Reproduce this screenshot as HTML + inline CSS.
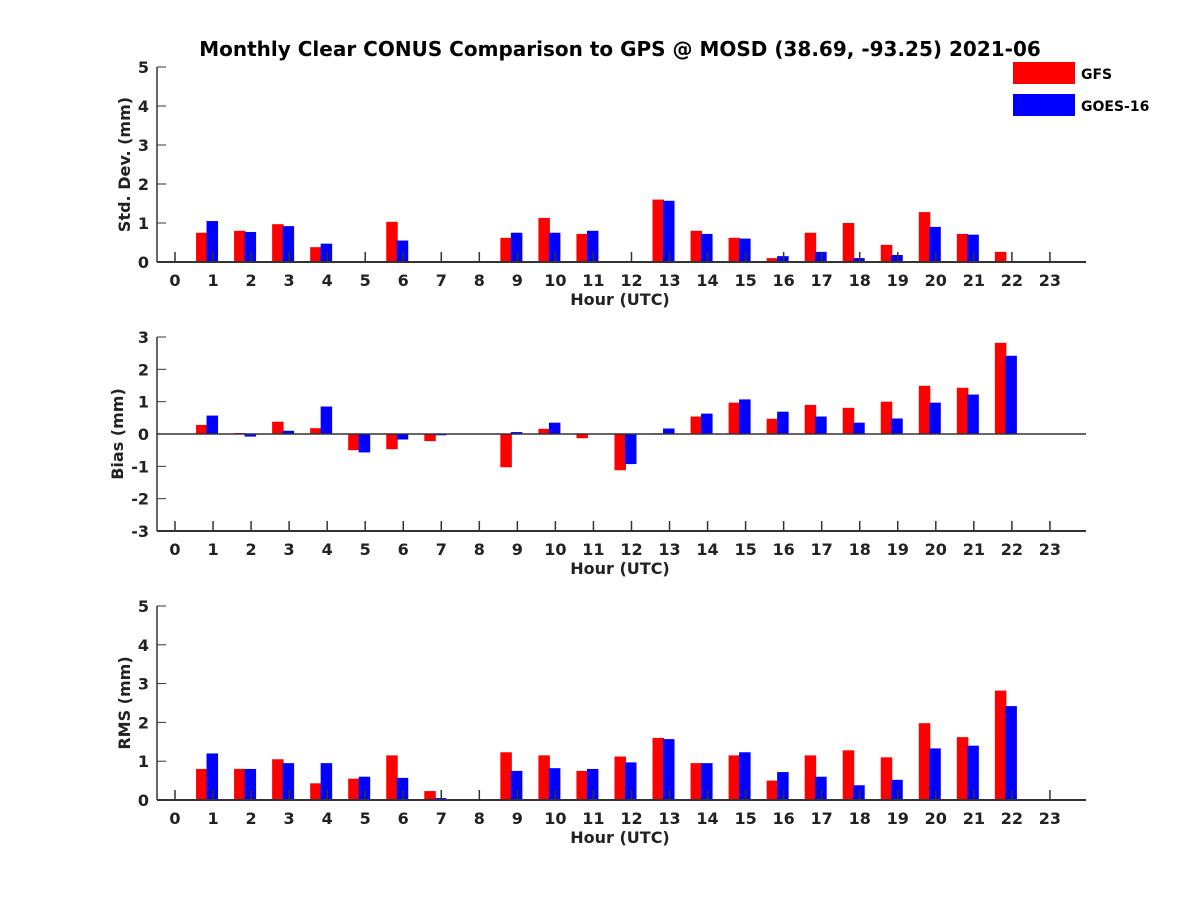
<!DOCTYPE html>
<html><head><meta charset="utf-8"><style>
body{margin:0;background:#fff}
svg{display:block;font-family:"DejaVu Sans","Liberation Sans",sans-serif;font-weight:bold}
</style></head><body>
<svg id="c" width="1200" height="900">
<text x="620" y="56" text-anchor="middle" font-size="20" fill="#000">Monthly Clear CONUS Comparison to GPS @ MOSD (38.69, -93.25) 2021-06</text>
<rect x="1013" y="62" width="62" height="22" fill="#ff0000"/>
<text x="1081" y="79" font-size="14">GFS</text>
<rect x="1013" y="94" width="62" height="22" fill="#0000ff"/>
<text x="1081" y="111" font-size="14">GOES-16</text>
</svg>
<script>
const hours=[0,1,2,3,4,5,6,7,8,9,10,11,12,13,14,15,16,17,18,19,20,21,22,23];
const stdGFS=[null,0.75,0.8,0.97,0.38,null,1.03,null,null,0.62,1.13,0.72,null,1.6,0.8,0.62,0.1,0.75,1.0,0.44,1.28,0.72,0.26,null];
const stdGOES=[null,1.05,0.77,0.92,0.47,null,0.55,null,null,0.75,0.75,0.8,null,1.57,0.72,0.6,0.15,0.26,0.1,0.18,0.9,0.7,0,null];
const biasGFS=[null,0.28,0.03,0.38,0.18,-0.5,-0.47,-0.22,null,-1.03,0.16,-0.13,-1.12,0.02,0.54,0.97,0.47,0.9,0.81,1.0,1.49,1.43,2.82,null];
const biasGOES=[null,0.57,-0.08,0.1,0.85,-0.57,-0.17,-0.04,null,0.06,0.35,null,-0.93,0.17,0.63,1.07,0.69,0.54,0.35,0.48,0.97,1.22,2.42,null];
const rmsGFS=[null,0.8,0.8,1.05,0.43,0.55,1.15,0.23,null,1.23,1.15,0.75,1.12,1.6,0.95,1.15,0.5,1.15,1.28,1.1,1.98,1.62,2.82,null];
const rmsGOES=[null,1.2,0.8,0.95,0.95,0.6,0.57,0.05,null,0.75,0.82,0.8,0.97,1.57,0.95,1.23,0.72,0.6,0.38,0.52,1.33,1.4,2.42,null];
const stdTicks=[0,1,2,3,4,5], biasTicks=[-3,-2,-1,0,1,2,3], rmsTicks=[0,1,2,3,4,5];

const svg=document.getElementById('c');
const NS='http://www.w3.org/2000/svg';
function mk(tag,attrs){const e=document.createElementNS(NS,tag);for(const k in attrs)e.setAttribute(k,attrs[k]);svg.appendChild(e);return e;}
const xL=157,xR=1086;
const xS=h=>175+h*38.04;
function panel(id,top,bot,ymin,ymax,ticks,gfs,goes,ylabel,ytx){
  const yS=v=>bot-(v-ymin)/(ymax-ymin)*(bot-top);
  hours.forEach((h,i)=>{
    [[gfs[i],'#ff0000',-17,'gfs'],[goes[i],'#0000ff',-6.5,'goes']].forEach(([v,col,off,nm])=>{
      if(v===null)return;
      const a=yS(v),b=yS(0);
      const r=mk('rect',{x:xS(h)+off,y:Math.min(a,b),width:11.5,height:Math.abs(a-b),fill:col});
      
      
    });
  });
  const ax=mk('line',{x1:xL,y1:top,x2:xL,y2:bot,stroke:'#333',"stroke-width":1.5});
  
  const bx=mk('line',{x1:xL,y1:bot,x2:xR,y2:bot,stroke:'#333',"stroke-width":2});
  
  if(ymin<0){const z=mk('line',{x1:xL,y1:yS(0),x2:xR,y2:yS(0),stroke:'#333',"stroke-width":1.5});
    }
  ticks.forEach(t=>{
    mk('line',{x1:xL,y1:yS(t),x2:xL+9,y2:yS(t),stroke:'#333',"stroke-width":1});
    const tx=mk('text',{x:xL-8,y:yS(t)+6,"text-anchor":"end","font-size":16,fill:'#222'});
    tx.textContent=t;
    
    
  });
  hours.forEach(h=>{
    mk('line',{x1:xS(h),y1:bot,x2:xS(h),y2:bot-10,stroke:'#333',"stroke-width":1.5});
    const tx=mk('text',{x:xS(h),y:bot+24,"text-anchor":"middle","font-size":16,fill:'#222'});
    tx.textContent=h;
    
    
  });
  const xt=mk('text',{x:620,y:bot+43,"text-anchor":"middle","font-size":16,fill:'#222'});
  xt.textContent='Hour (UTC)';
  
  
  const cy=(top+bot)/2;
  const yt=mk('text',{x:0,y:0,"text-anchor":"middle","font-size":16,fill:'#222',transform:`translate(${ytx},${cy}) rotate(-90)`});
  yt.textContent=ylabel;
  
  
}
panel('std',67,262,0,5,stdTicks,stdGFS,stdGOES,'Std. Dev. (mm)',130);
panel('bias',337,531,-3,3,biasTicks,biasGFS,biasGOES,'Bias (mm)',123);
panel('rms',606,800,0,5,rmsTicks,rmsGFS,rmsGOES,'RMS (mm)',130);
</script>
</body></html>
